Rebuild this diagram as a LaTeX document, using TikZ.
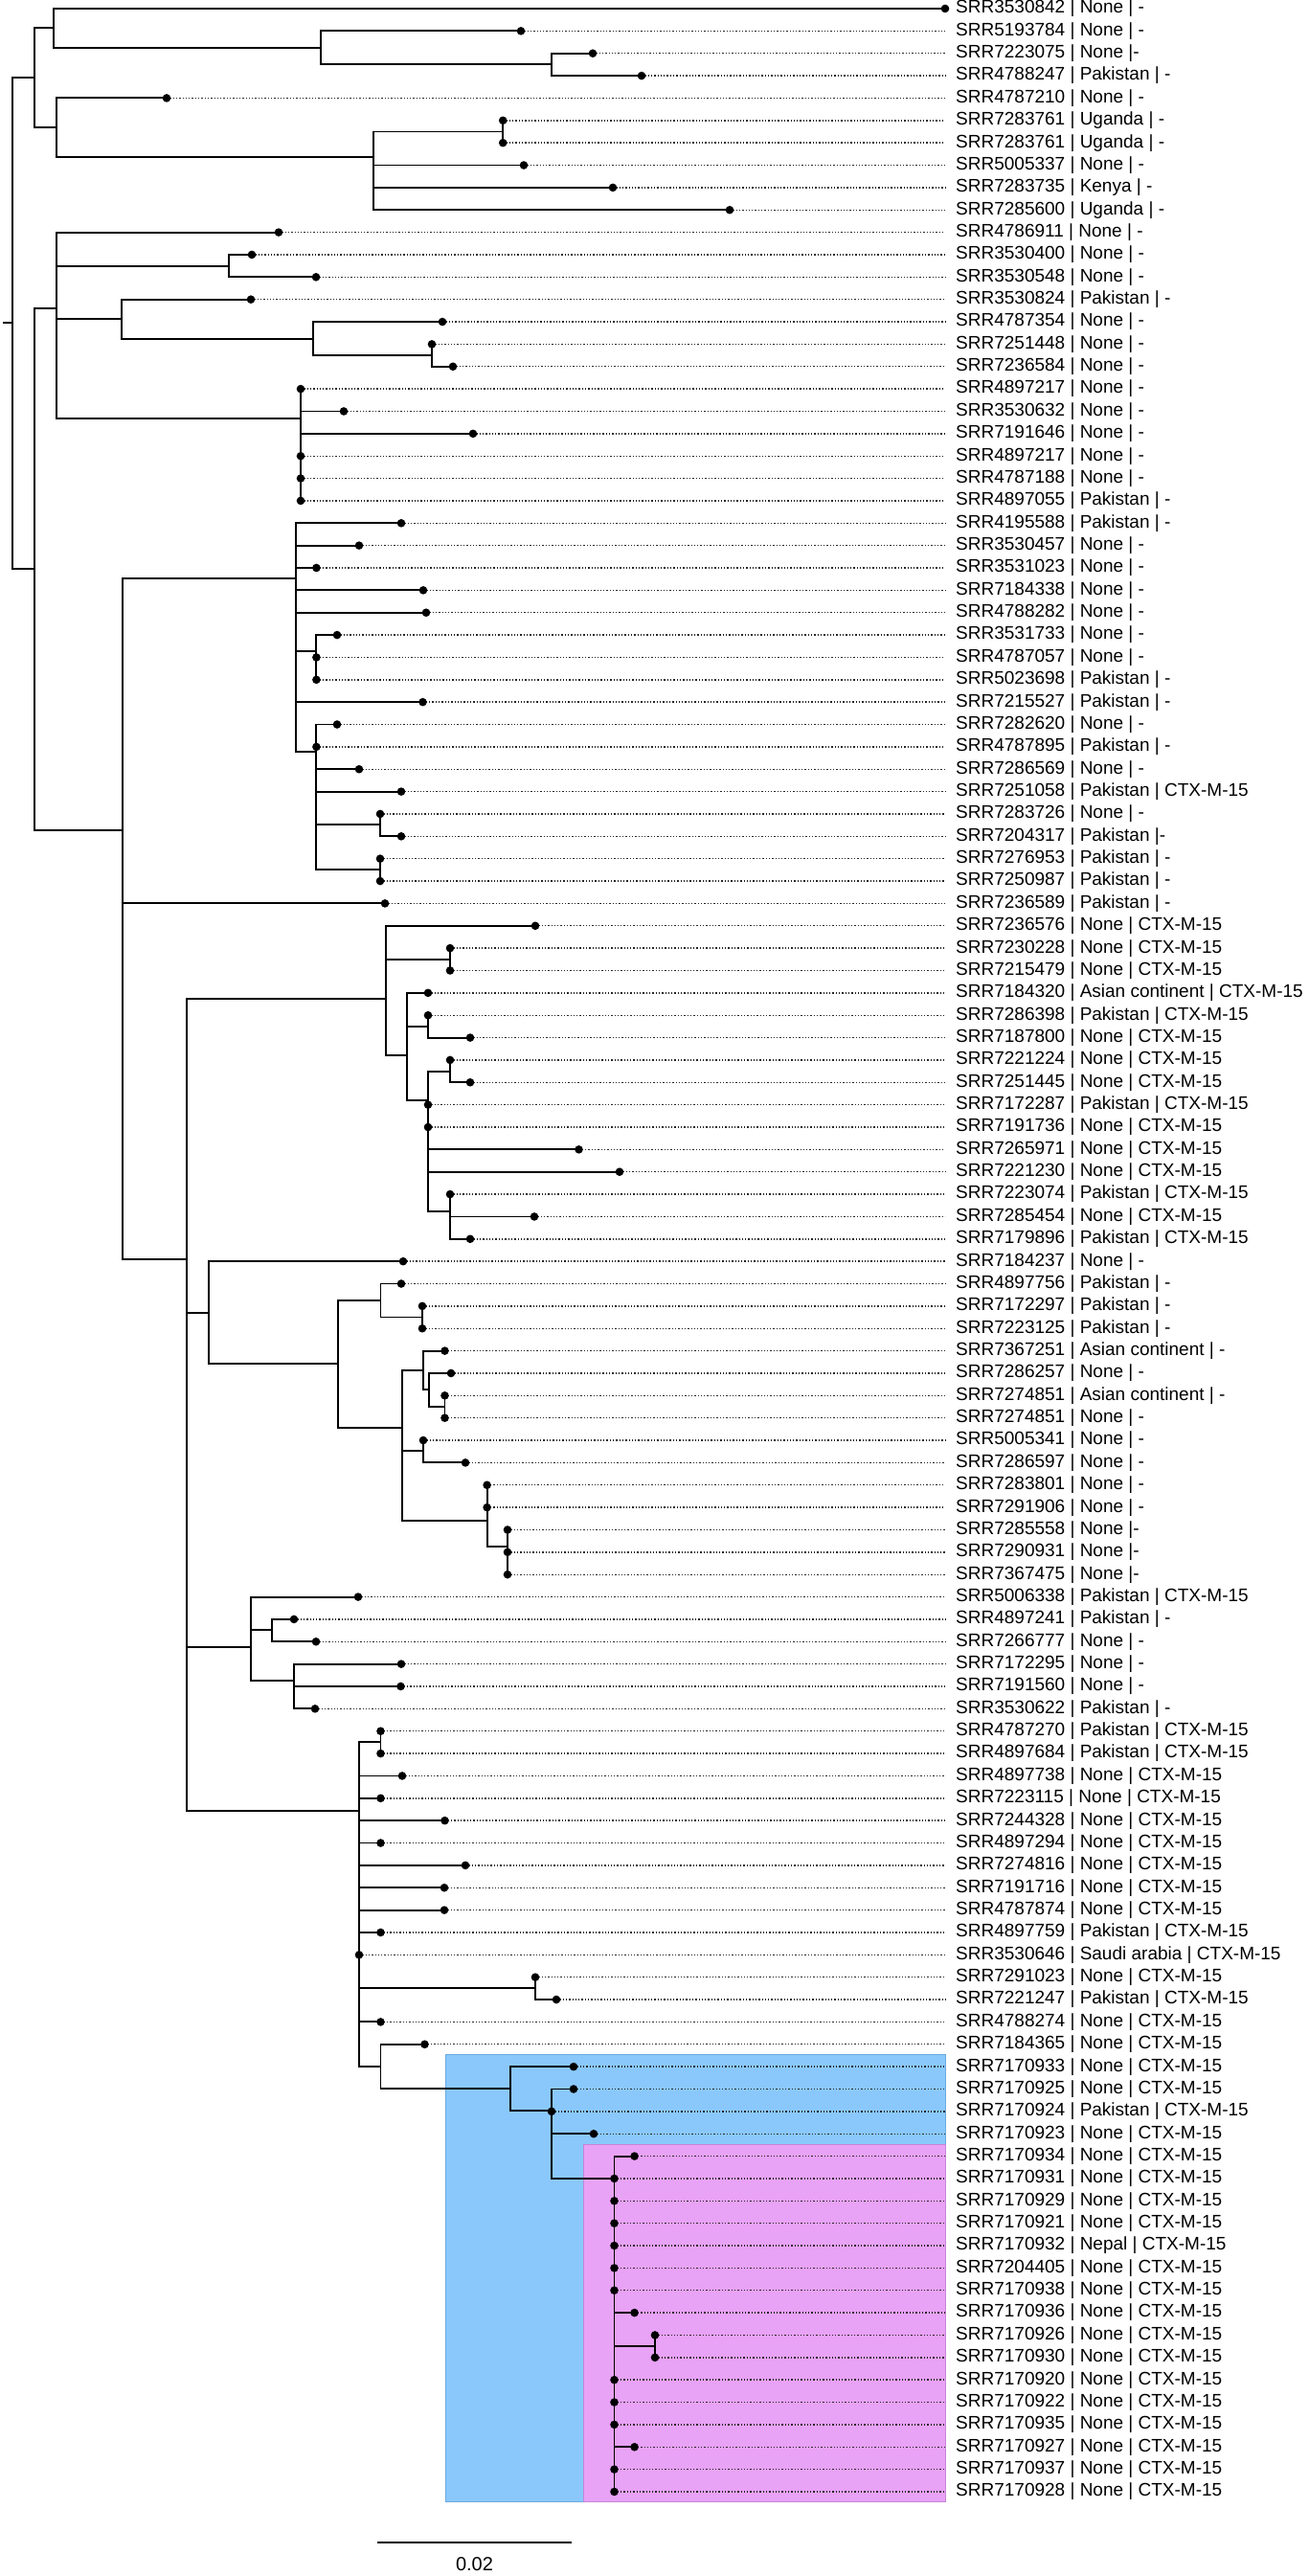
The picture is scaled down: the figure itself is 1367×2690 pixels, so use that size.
\documentclass[tikz,border=0pt]{standalone}
\usepackage{fontspec}
\setmainfont{Liberation Sans}
\definecolor{boxblue}{HTML}{8AC8FC}
\definecolor{boxblueline}{HTML}{6AAAE0}
\definecolor{boxpink}{HTML}{E8A2F6}
\definecolor{boxpinkline}{HTML}{C884D8}
\begin{document}
\begin{tikzpicture}[x=1pt,y=-1pt,
  branch/.style={line width=1.9pt, line join=miter},
  leafdot/.style={circle, fill=black, inner sep=0pt, minimum size=8.6pt},
  guide/.style={line width=1.4pt, dash pattern=on 1.3pt off 2pt, black!85},
  lab/.style={anchor=west, inner sep=0pt, font=\fontsize{19}{20}\selectfont},
  clade/.style={line width=0.8pt}]
\useasboundingbox (0,0) rectangle (1367,2690);
% clade boxes
\fill[boxblue] (465,2145.7) rectangle (987,2612.7);
\draw[clade, boxblueline] (465,2145.7) rectangle (987,2612.7);
\fill[boxpink] (609,2239.3) rectangle (987,2612.7);
\draw[clade, boxpinkline] (609,2239.3) rectangle (987,2612.7);
% internal nodes
\foreach \n/\x/\y in {root/12.8/337.3, A/36.4/81.2, B/56.2/29.4, C/334.8/49.9, D/576.4/67.4,
  E/58.8/133.1, F/389.8/163.8, G/525.2/137.5, H/36.4/594, I/58.8/322, J/239/277.7,
  K/127/333.1, L/327/353.6, M/451/371.1, N/314/436.7, P/128/866.7, Q/308.6/603.7,
  S/330.4/680.3, T/330.4/785, U/397/861, V/397/908.4, R/195/1315.3, W/402.6/1042.6,
  W1/470/1001.7, W2/425/1101.8, W3/447/1071.9, W4/447/1149.3, W5/470/1118.7, W6/470/1264.8,
  X/218/1370.7, X2/353/1424.3, X3/397.5/1358, X5/441/1375.5, X4/420/1491, X6/442/1430.6,
  X9/448/1451, X10/464.5/1468.6, X7/442/1515.3, X8/508.6/1588.4, X11/530/1614.6,
  Y/262/1719.9, Y1/284/1702.3, Y2/307/1755, Z/375/1890.7, Z1/397.5/1819.3, Z2/559/2076.4,
  Z3/397.5/2158, Z4/533/2181, Z5/576/2204.3, Z6/641.5/2274.7, Z7/684/2450.3}
  { \coordinate (\n) at (\x,\y); }
\coordinate (rootstub) at (3,337.3);
\draw[branch] (rootstub) -- (root);
\foreach \c/\pa in {A/root, H/root, B/A, E/A, C/B, D/C, F/E, G/F, I/H, P/H, J/I, K/I, N/I,
  L/K, M/L, Q/P, R/P, S/Q, T/Q, U/T, V/T, W/R, X/R, Y/R, Z/R, W1/W, W2/W, W3/W2, W4/W2,
  W5/W4, W6/W4, X2/X, X3/X2, X4/X2, X5/X3, X6/X4, X7/X4, X8/X4, X9/X6, X10/X9, X11/X8,
  Y1/Y, Y2/Y, Z1/Z, Z2/Z, Z3/Z, Z4/Z3, Z5/Z4, Z6/Z5, Z7/Z6}
  { \draw[branch] (\pa) |- (\c); }
% leaves
\foreach \i/\x/\pa/\lbl in {
1/987/B/{SRR3530842 | None | -},
2/544/C/{SRR5193784 | None | -},
3/619/D/{SRR7223075 | None |-},
4/670/D/{SRR4788247 | Pakistan | -},
5/174/E/{SRR4787210 | None | -},
6/525.2/G/{SRR7283761 | Uganda | -},
7/525.2/G/{SRR7283761 | Uganda | -},
8/547/F/{SRR5005337 | None | -},
9/640/F/{SRR7283735 | Kenya | -},
10/762/F/{SRR7285600 | Uganda | -},
11/291/I/{SRR4786911 | None | -},
12/263/J/{SRR3530400 | None | -},
13/330/J/{SRR3530548 | None | -},
14/262/K/{SRR3530824 | Pakistan | -},
15/462/L/{SRR4787354 | None | -},
16/451/M/{SRR7251448 | None | -},
17/473/M/{SRR7236584 | None | -},
18/314/N/{SRR4897217 | None | -},
19/359/N/{SRR3530632 | None | -},
20/494/N/{SRR7191646 | None | -},
21/314/N/{SRR4897217 | None | -},
22/314/N/{SRR4787188 | None | -},
23/314/N/{SRR4897055 | Pakistan | -},
24/419/Q/{SRR4195588 | Pakistan | -},
25/375/Q/{SRR3530457 | None | -},
26/330.4/Q/{SRR3531023 | None | -},
27/442/Q/{SRR7184338 | None | -},
28/445/Q/{SRR4788282 | None | -},
29/352/S/{SRR3531733 | None | -},
30/330.4/S/{SRR4787057 | None | -},
31/330.4/S/{SRR5023698 | Pakistan | -},
32/441.5/Q/{SRR7215527 | Pakistan | -},
33/352/T/{SRR7282620 | None | -},
34/330.4/T/{SRR4787895 | Pakistan | -},
35/375/T/{SRR7286569 | None | -},
36/419/T/{SRR7251058 | Pakistan | CTX-M-15},
37/397/U/{SRR7283726 | None | -},
38/419/U/{SRR7204317 | Pakistan |-},
39/397/V/{SRR7276953 | Pakistan | -},
40/397/V/{SRR7250987 | Pakistan | -},
41/402/P/{SRR7236589 | Pakistan | -},
42/559/W/{SRR7236576 | None | CTX-M-15},
43/470/W1/{SRR7230228 | None | CTX-M-15},
44/470/W1/{SRR7215479 | None | CTX-M-15},
45/447/W2/{SRR7184320 | Asian continent | CTX-M-15},
46/447/W3/{SRR7286398 | Pakistan | CTX-M-15},
47/491/W3/{SRR7187800 | None | CTX-M-15},
48/470/W5/{SRR7221224 | None | CTX-M-15},
49/491/W5/{SRR7251445 | None | CTX-M-15},
50/447/W4/{SRR7172287 | Pakistan | CTX-M-15},
51/447/W4/{SRR7191736 | None | CTX-M-15},
52/604.5/W4/{SRR7265971 | None | CTX-M-15},
53/647/W4/{SRR7221230 | None | CTX-M-15},
54/470/W6/{SRR7223074 | Pakistan | CTX-M-15},
55/558/W6/{SRR7285454 | None | CTX-M-15},
56/491/W6/{SRR7179896 | Pakistan | CTX-M-15},
57/421/X/{SRR7184237 | None | -},
58/419/X3/{SRR4897756 | Pakistan | -},
59/441/X5/{SRR7172297 | Pakistan | -},
60/441/X5/{SRR7223125 | Pakistan | -},
61/464.5/X6/{SRR7367251 | Asian continent | -},
62/471/X9/{SRR7286257 | None | -},
63/464.5/X10/{SRR7274851 | Asian continent | -},
64/464.5/X10/{SRR7274851 | None | -},
65/442/X7/{SRR5005341 | None | -},
66/486/X7/{SRR7286597 | None | -},
67/508.6/X8/{SRR7283801 | None | -},
68/508.6/X8/{SRR7291906 | None | -},
69/530/X11/{SRR7285558 | None |-},
70/530/X11/{SRR7290931 | None |-},
71/530/X11/{SRR7367475 | None |-},
72/374/Y/{SRR5006338 | Pakistan | CTX-M-15},
73/307/Y1/{SRR4897241 | Pakistan | -},
74/330/Y1/{SRR7266777 | None | -},
75/419/Y2/{SRR7172295 | None | -},
76/418.5/Y2/{SRR7191560 | None | -},
77/329/Y2/{SRR3530622 | Pakistan | -},
78/397.5/Z1/{SRR4787270 | Pakistan | CTX-M-15},
79/397.5/Z1/{SRR4897684 | Pakistan | CTX-M-15},
80/420/Z/{SRR4897738 | None | CTX-M-15},
81/397.5/Z/{SRR7223115 | None | CTX-M-15},
82/464.5/Z/{SRR7244328 | None | CTX-M-15},
83/397.5/Z/{SRR4897294 | None | CTX-M-15},
84/486/Z/{SRR7274816 | None | CTX-M-15},
85/464/Z/{SRR7191716 | None | CTX-M-15},
86/464/Z/{SRR4787874 | None | CTX-M-15},
87/397.5/Z/{SRR4897759 | Pakistan | CTX-M-15},
88/375/Z/{SRR3530646 | Saudi arabia | CTX-M-15},
89/559/Z2/{SRR7291023 | None | CTX-M-15},
90/581/Z2/{SRR7221247 | Pakistan | CTX-M-15},
91/397.5/Z/{SRR4788274 | None | CTX-M-15},
92/443.5/Z3/{SRR7184365 | None | CTX-M-15},
93/599/Z4/{SRR7170933 | None | CTX-M-15},
94/599/Z5/{SRR7170925 | None | CTX-M-15},
95/576/Z5/{SRR7170924 | Pakistan | CTX-M-15},
96/620/Z5/{SRR7170923 | None | CTX-M-15},
97/662.6/Z6/{SRR7170934 | None | CTX-M-15},
98/641.5/Z6/{SRR7170931 | None | CTX-M-15},
99/641.5/Z6/{SRR7170929 | None | CTX-M-15},
100/641.5/Z6/{SRR7170921 | None | CTX-M-15},
101/641.5/Z6/{SRR7170932 | Nepal | CTX-M-15},
102/641.5/Z6/{SRR7204405 | None | CTX-M-15},
103/641.5/Z6/{SRR7170938 | None | CTX-M-15},
104/662.6/Z6/{SRR7170936 | None | CTX-M-15},
105/684/Z7/{SRR7170926 | None | CTX-M-15},
106/684/Z7/{SRR7170930 | None | CTX-M-15},
107/641.5/Z6/{SRR7170920 | None | CTX-M-15},
108/641.5/Z6/{SRR7170922 | None | CTX-M-15},
109/641.5/Z6/{SRR7170935 | None | CTX-M-15},
110/662.6/Z6/{SRR7170927 | None | CTX-M-15},
111/641.5/Z6/{SRR7170937 | None | CTX-M-15},
112/641.5/Z6/{SRR7170928 | None | CTX-M-15}}
{
  \pgfmathsetmacro\yy{9+(\i-1)*23.36}
  \coordinate (l\i) at (\x,\yy);
  \coordinate (e\i) at (987,\yy);
  \ifnum\i>1 \draw[guide] (l\i) -- (e\i); \fi
  \draw[branch] (\pa) |- (l\i);
  \node[leafdot] (d\i) at (l\i) {};
  \node[lab] (t\i) at (998,\yy) {\lbl};
}
% scale bar
\coordinate (sbL) at (394,2655);
\coordinate (sbR) at (597,2655);
\draw[line width=2pt] (sbL) -- (sbR);
\node[font=\fontsize{20}{22}\selectfont, inner sep=0pt] (sbtext) at (495.5,2678) {0.02};
\end{tikzpicture}
\end{document}
